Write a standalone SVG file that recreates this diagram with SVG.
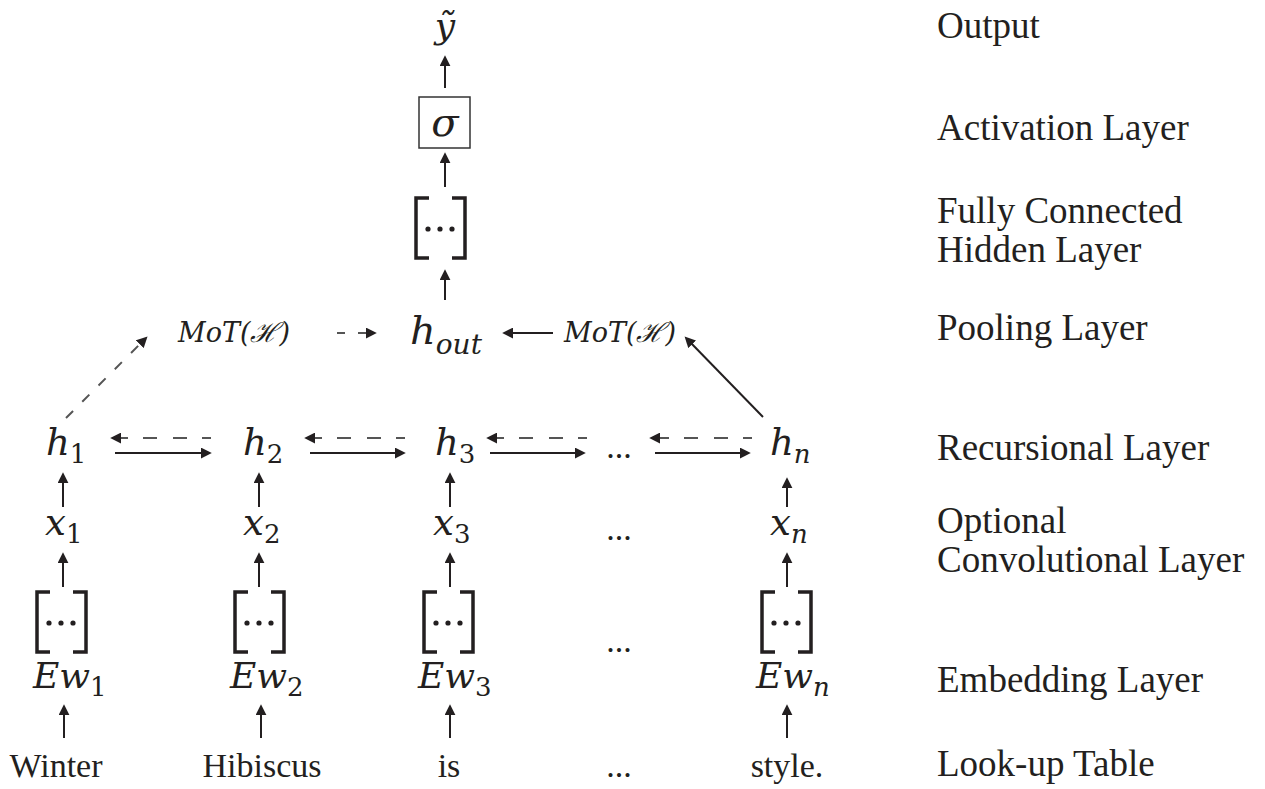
<svg xmlns="http://www.w3.org/2000/svg" width="1265" height="789" viewBox="0 0 1265 789">
<style>
.m{font-family:"DejaVu Serif",serif;font-style:italic;fill:#231f20}
.s{font-style:normal}
.lbl{font-family:"Liberation Serif","Times New Roman",serif;font-size:37px;fill:#231f20}
.w{font-family:"Liberation Serif","Times New Roman",serif;font-size:34px;fill:#231f20;text-anchor:middle}
.a{stroke:#231f20;stroke-width:2;fill:none;marker-end:url(#ah)}
.d{stroke:#555;stroke-width:2;fill:none;marker-end:url(#ah)}
.br{stroke:#231f20;stroke-width:3.5;fill:none}
.dot{fill:#231f20}
</style>
<defs>
<marker id="ah" viewBox="0 0 10 10" refX="2" refY="5" markerWidth="11" markerHeight="11" markerUnits="userSpaceOnUse" orient="auto">
<path d="M0,0 L10,5 L0,10 z" fill="#231f20"/>
</marker>
<g id="bracket">
<path class="br" d="M15,0 H2 V60 H15 M38,0 H51 V60 H38"/>
<circle class="dot" cx="14" cy="31" r="2.6"/>
<circle class="dot" cx="26" cy="31" r="2.6"/>
<circle class="dot" cx="38" cy="31" r="2.6"/>
</g>
</defs>
<rect width="1265" height="789" fill="#fff"/>

<g id="labels">
<text class="lbl" x="937" y="38">Output</text>
<text class="lbl" x="937" y="140">Activation Layer</text>
<text class="lbl" x="937" y="223">Fully Connected</text>
<text class="lbl" x="937" y="262">Hidden Layer</text>
<text class="lbl" x="937" y="340">Pooling Layer</text>
<text class="lbl" x="937" y="460">Recursional Layer</text>
<text class="lbl" x="937" y="533">Optional</text>
<text class="lbl" x="937" y="572">Convolutional Layer</text>
<text class="lbl" x="937" y="692">Embedding Layer</text>
<text class="lbl" x="937" y="776">Look-up Table</text>
</g>

<g id="output"><text class="m" x="445" y="38" font-size="36" text-anchor="middle">ỹ</text></g>
<g id="activation">
<rect x="419" y="97" width="51" height="51" fill="none" stroke="#333" stroke-width="1.5"/>
<text class="m" x="445" y="136" font-size="40" text-anchor="middle">σ</text>
</g>
<g id="fc"><use href="#bracket" x="414" y="198"/></g>
<g id="hout"><text class="m" x="410" y="344" font-size="40">h<tspan font-size="28" dy="10">out</tspan></text></g>
<g id="mot-left"><text class="m" x="178" y="342" font-size="27">MoT(ℋ)</text></g>
<g id="mot-right"><text class="m" x="564" y="342" font-size="27">MoT(ℋ)</text></g>

<g id="h1"><text class="m" x="46" y="455" font-size="37">h<tspan class="s" font-size="26" dy="8">1</tspan></text></g>
<g id="h2"><text class="m" x="243" y="455" font-size="37">h<tspan class="s" font-size="26" dy="8">2</tspan></text></g>
<g id="h3"><text class="m" x="435" y="455" font-size="37">h<tspan class="s" font-size="26" dy="8">3</tspan></text></g>
<g id="hdots"><text class="w" x="619" y="458">...</text></g>
<g id="hn"><text class="m" x="770" y="455" font-size="37">h<tspan font-size="26" dy="8">n</tspan></text></g>

<g id="x1"><text class="m" x="45" y="535" font-size="37">x<tspan class="s" font-size="26" dy="8">1</tspan></text></g>
<g id="x2"><text class="m" x="243" y="535" font-size="37">x<tspan class="s" font-size="26" dy="8">2</tspan></text></g>
<g id="x3"><text class="m" x="433" y="535" font-size="37">x<tspan class="s" font-size="26" dy="8">3</tspan></text></g>
<g id="xdots"><text class="w" x="619" y="540">...</text></g>
<g id="xn"><text class="m" x="770" y="535" font-size="37">x<tspan font-size="26" dy="8">n</tspan></text></g>

<g id="b1"><use href="#bracket" x="35" y="592"/></g>
<g id="b2"><use href="#bracket" x="233" y="592"/></g>
<g id="b3"><use href="#bracket" x="422" y="592"/></g>
<g id="bdots"><text class="w" x="619" y="652">...</text></g>
<g id="bn"><use href="#bracket" x="760" y="592"/></g>

<g id="e1"><text class="m" x="33" y="688" font-size="36">Ew<tspan class="s" font-size="26" dy="8">1</tspan></text></g>
<g id="e2"><text class="m" x="230" y="688" font-size="36">Ew<tspan class="s" font-size="26" dy="8">2</tspan></text></g>
<g id="e3"><text class="m" x="418" y="688" font-size="36">Ew<tspan class="s" font-size="26" dy="8">3</tspan></text></g>
<g id="en"><text class="m" x="756" y="688" font-size="36">Ew<tspan font-size="26" dy="8">n</tspan></text></g>

<g id="words">
<text class="w" x="56" y="777">Winter</text>
<text class="w" x="262" y="777">Hibiscus</text>
<text class="w" x="449" y="777">is</text>
<text class="w" x="619" y="777">...</text>
<text class="w" x="787" y="777">style.</text>
</g>

<g id="connectors">
<path class="a" d="M445,88 V64"/>
<path class="a" d="M445,187 V161"/>
<path class="a" d="M445,300 V278"/>
<path class="a" d="M63,507 V481"/>
<path class="a" d="M259,507 V481"/>
<path class="a" d="M450,507 V481"/>
<path class="a" d="M787,507 V486"/>
<path class="a" d="M63,587 V561"/>
<path class="a" d="M259,587 V561"/>
<path class="a" d="M450,587 V561"/>
<path class="a" d="M787,587 V561"/>
<path class="a" d="M64,738 V713"/>
<path class="a" d="M261,738 V713"/>
<path class="a" d="M450,738 V713"/>
<path class="a" d="M787,738 V713"/>
<path class="a" d="M115,453 H203"/>
<path class="a" d="M310,453 H397"/>
<path class="a" d="M490,453 H577"/>
<path class="a" d="M655,453 H742"/>
<path class="d" d="M211,438 H119" stroke-dasharray="9 15 14 16 14 15 9"/>
<path class="d" d="M405,438 H313" stroke-dasharray="9 15 14 16 14 15 9"/>
<path class="d" d="M587,438 H495" stroke-dasharray="9 15 14 16 14 15 9"/>
<path class="d" d="M752,438 H658" stroke-dasharray="9 15 14 16 14 15 11"/>
<path class="d" d="M337,333 H368" stroke-dasharray="8 13 10"/>
<path class="a" d="M553,333 H511"/>
<path class="a" d="M763,417 L690.7,342.7"/>
<path class="d" d="M66,418 L141.3,342.7" stroke-dasharray="10 13"/>
</g>
</svg>
